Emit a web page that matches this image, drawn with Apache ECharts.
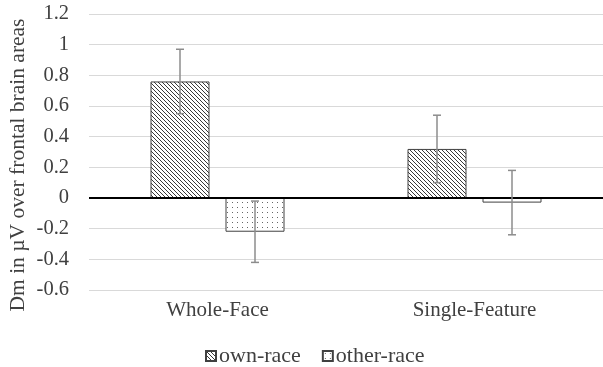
<!DOCTYPE html>
<html><head><meta charset="utf-8">
<script src="https://cdn.jsdelivr.net/npm/echarts@6/dist/echarts.min.js"></script>
<style>html,body{margin:0;padding:0;background:#fff}#c{width:603px;height:367px}</style>
</head><body><div id="c"></div>
<script>
const categories = ['Whole-Face', 'Single-Feature'];
const seriesNames = ['own-race', 'other-race'];
const ownRace = [0.76, 0.32];
const otherRace = [-0.22, -0.03];
const ownErr = [0.21, 0.22];
const otherErr = [0.20, 0.21];
const yTitle = 'Dm in µV over frontal brain areas';

function hatchPattern() {
  const s = 4;
  const c = document.createElement('canvas');
  c.width = s; c.height = s;
  const g = c.getContext('2d');
  g.fillStyle = '#fff'; g.fillRect(0, 0, s, s);
  g.strokeStyle = '#222'; g.lineWidth = 0.9;
  g.beginPath();
  g.moveTo(-1, -1); g.lineTo(s + 1, s + 1);
  g.moveTo(-1, s - 1); g.lineTo(1, s + 1);
  g.moveTo(s - 1, -1); g.lineTo(s + 1, 1);
  g.stroke();
  return c;
}
function dotPattern() {
  const c = document.createElement('canvas');
  c.width = 5; c.height = 5;
  const g = c.getContext('2d');
  g.fillStyle = '#fff'; g.fillRect(0, 0, 5, 5);
  g.fillStyle = '#666';
  g.fillRect(2, 2, 1, 1);
  return c;
}
const hatch = { image: hatchPattern(), repeat: 'repeat' };
const dots = { image: dotPattern(), repeat: 'repeat' };

const font = 'Liberation Serif';
const barW = 59, gapPx = 16;
const half = (barW + gapPx) / 2;

function errSeries(vals, errs, side) {
  return {
    type: 'custom',
    silent: true,
    z: 5,
    data: vals.map((v, i) => [i, v, errs[i]]),
    renderItem: function (params, api) {
      const i = api.value(0), v = api.value(1), e = api.value(2);
      const top = api.coord([i, v + e]);
      const bot = api.coord([i, v - e]);
      const x = top[0] + side * half;
      const cap = 4;
      const st = { stroke: '#8c8c8c', lineWidth: 1.5 };
      return { type: 'group', children: [
        { type: 'line', shape: { x1: x, y1: top[1], x2: x, y2: bot[1] }, style: st },
        { type: 'line', shape: { x1: x - cap, y1: top[1], x2: x + cap, y2: top[1] }, style: st },
        { type: 'line', shape: { x1: x - cap, y1: bot[1], x2: x + cap, y2: bot[1] }, style: st }
      ]};
    }
  };
}

const chart = echarts.init(document.getElementById('c'), null, { renderer: 'canvas' });
chart.setOption({
  animation: false,
  backgroundColor: '#fff',
  grid: { left: 89, top: 14, width: 523, height: 276, containLabel: false },
  xAxis: {
    type: 'category', data: categories,
    axisLine: { show: false, onZero: false }, axisTick: { show: false },
    axisLabel: { color: '#404040', fontFamily: font, fontSize: 21, margin: 10 }
  },
  yAxis: {
    type: 'value', min: -0.6, max: 1.2, interval: 0.2,
    axisLine: { show: false }, axisTick: { show: false },
    axisLabel: { color: '#404040', fontFamily: font, fontSize: 20.5, margin: 20,
      formatter: v => String(Math.round(v * 10) / 10) },
    splitLine: { lineStyle: { color: '#d9d9d9', width: 1 } }
  },
  legend: {
    data: seriesNames, top: 340, left: 200, itemWidth: 10, itemHeight: 10, itemGap: 21,
    icon: 'rect',
    textStyle: { fontFamily: font, fontSize: 22, color: '#404040', padding: [0, 0, 0, -2] }
  },
  graphic: [{
    type: 'text', x: 18.5, y: 165, rotation: Math.PI / 2,
    style: { text: yTitle, font: '21.5px "Liberation Serif"', fill: '#404040',
      textAlign: 'center', textVerticalAlign: 'middle' }
  }],
  series: [
    { name: seriesNames[0], type: 'bar', data: ownRace, barWidth: barW, barGap: (gapPx / barW * 100) + '%',
      itemStyle: { color: hatch, borderColor: '#404040', borderWidth: 1 },
      markLine: { silent: true, symbol: 'none', label: { show: false },
        lineStyle: { color: '#000', width: 2, type: 'solid' }, data: [{ yAxis: 0 }] } },
    { name: seriesNames[1], type: 'bar', data: otherRace, barWidth: barW,
      itemStyle: { color: dots, borderColor: '#404040', borderWidth: 1 } },
    errSeries(ownRace, ownErr, -1),
    errSeries(otherRace, otherErr, 1)
  ]
});
</script></body></html>
